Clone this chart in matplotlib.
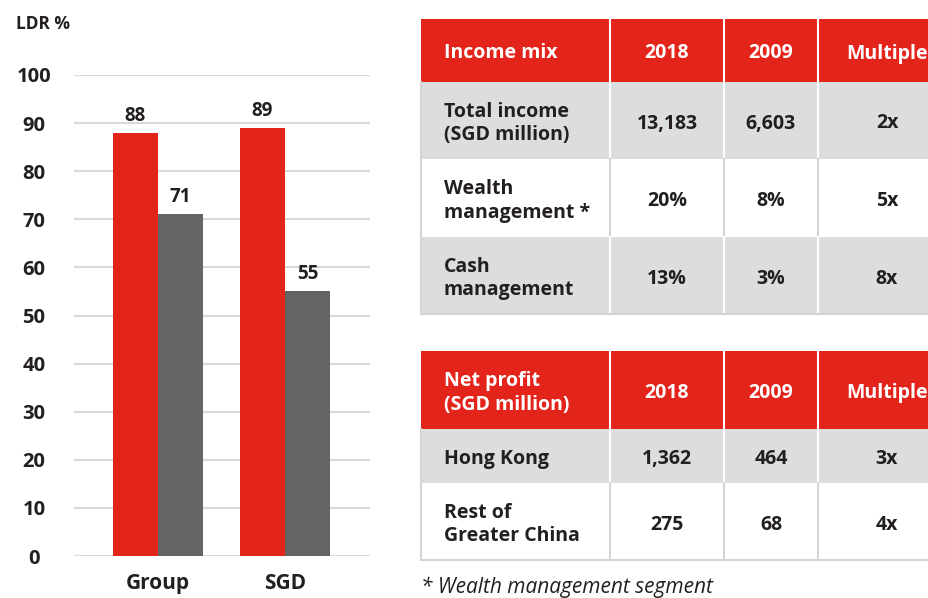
import numpy as np
import matplotlib.pyplot as plt
from matplotlib.patches import Rectangle

plt.rcParams['font.family'] = ['Open Sans', 'DejaVu Sans']

RED = '#e3241b'
GREY_BAR = '#636466'
GREY_ROW = '#dcdddf'
TEXT = '#231f20'
GRID = '#d9d9d9'

# bar chart data
categories = ["Group", "SGD"]
ldr_red = [88, 89]
ldr_grey = [71, 55]
yticks = [0, 10, 20, 30, 40, 50, 60, 70, 80, 90, 100]

# table data
income_header = ["Income mix", "2018", "2009", "Multiple"]
income_rows = ["Total income\n(SGD million)", "Wealth\nmanagement *", "Cash\nmanagement"]
income_2018 = ["13,183", "20%", "13%"]
income_2009 = ["6,603", "8%", "3%"]
income_mult = ["2x", "5x", "8x"]

profit_header = ["Net profit\n(SGD million)", "2018", "2009", "Multiple"]
profit_rows = ["Hong Kong", "Rest of\nGreater China"]
profit_2018 = ["1,362", "275"]
profit_2009 = ["464", "68"]
profit_mult = ["3x", "4x"]

footnote = "* Wealth management segment"

W, H = 929, 598
fig = plt.figure(figsize=(W / 100, H / 100), dpi=100)

# ---- bar chart ----
ax = fig.add_axes([74 / W, 42 / H, (370 - 74) / W, (556 - 75) / H])
x = np.arange(len(categories))
bw = 0.355
ax.bar(x - bw / 2, ldr_red, bw, color=RED, zorder=3)
ax.bar(x + bw / 2, ldr_grey, bw, color=GREY_BAR, zorder=3)
for xi, v in zip(x - bw / 2, ldr_red):
    ax.text(xi, v + 1.5, str(v), ha='center', va='bottom', fontsize=13.5,
            fontweight='bold', color=TEXT)
for xi, v in zip(x + bw / 2, ldr_grey):
    ax.text(xi, v + 1.5, str(v), ha='center', va='bottom', fontsize=13.5,
            fontweight='bold', color=TEXT)
ax.set_xlim(-0.661, 1.669)
ax.set_ylim(0, 100)
ax.set_yticks(yticks)
ax.set_yticklabels([str(t) for t in yticks], ha='center', fontsize=14.5,
                   fontweight='bold', color=TEXT)
ax.tick_params(axis='y', length=0, pad=28.8)
ax.set_xticks(x)
ax.set_xticklabels(categories, fontsize=15, fontweight='bold', color=TEXT)
ax.tick_params(axis='x', length=0, pad=12)
ax.grid(axis='y', color=GRID, linewidth=1.5, zorder=0)
for s in ax.spines.values():
    s.set_visible(False)
ax.set_axisbelow(True)
fig.text(16 / W, 1 - 24 / H, "LDR %", ha='left', va='center', fontsize=12.5,
         fontweight='bold', color=TEXT)

# ---- tables ----
tab = fig.add_axes([0, 0, 1, 1], zorder=-1)
tab.set_xlim(0, W)
tab.set_ylim(H, 0)
tab.axis('off')

col_x = [421, 610, 724, 818, 960]


def draw_table(header, rows, c1, c2, c3, row_y, shades):
    cols = [header] + [[r, a, b, c] for r, a, b, c in zip(rows, c1, c2, c3)]
    for i, cells in enumerate(cols):
        y0, y1 = row_y[i], row_y[i + 1]
        if i == 0:
            bg, fg, sep = RED, 'white', 'white'
        else:
            bg = GREY_ROW if shades[i - 1] else 'white'
            fg = TEXT
            sep = 'white' if shades[i - 1] else '#d4d4d4'
        tab.add_patch(Rectangle((col_x[0], y0), col_x[-1] - col_x[0], y1 - y0,
                                facecolor=bg, edgecolor='none'))
        for cx in col_x[1:-1]:
            tab.plot([cx, cx], [y0, y1], color=sep, lw=1.5)
        if i > 0:
            tab.plot([col_x[0], col_x[0]], [y0, y1], color='#d4d4d4', lw=1.5)
        ym = (y0 + y1) / 2 + 3
        for j, t in enumerate(cells):
            if j == 0:
                tab.text(col_x[0] + 23, ym, t, ha='left', va='center',
                         fontsize=14, fontweight='bold', color=fg, linespacing=1.25)
            elif j == 3 and i == 0:
                tab.text(928, ym, t, ha='right', va='center', fontsize=14,
                         fontweight='bold', color=fg)
            else:
                xc = (col_x[j] + col_x[j + 1]) / 2
                if j == 3:
                    xc = 887
                tab.text(xc, ym, t, ha='center', va='center', fontsize=14,
                         fontweight='bold', color=fg)
    tab.plot([col_x[0], col_x[-1]], [row_y[-1], row_y[-1]], color='#d4d4d4', lw=1.5)


draw_table(income_header, income_rows, income_2018, income_2009, income_mult,
           [19, 82, 159, 237, 314], [True, False, True])
draw_table(profit_header, profit_rows, profit_2018, profit_2009, profit_mult,
           [351, 429, 483, 560], [True, False])

tab.text(421, 587, footnote, ha='left', va='center', fontsize=15,
         fontstyle='italic', color=TEXT)

plt.savefig('out.png', dpi=100)
